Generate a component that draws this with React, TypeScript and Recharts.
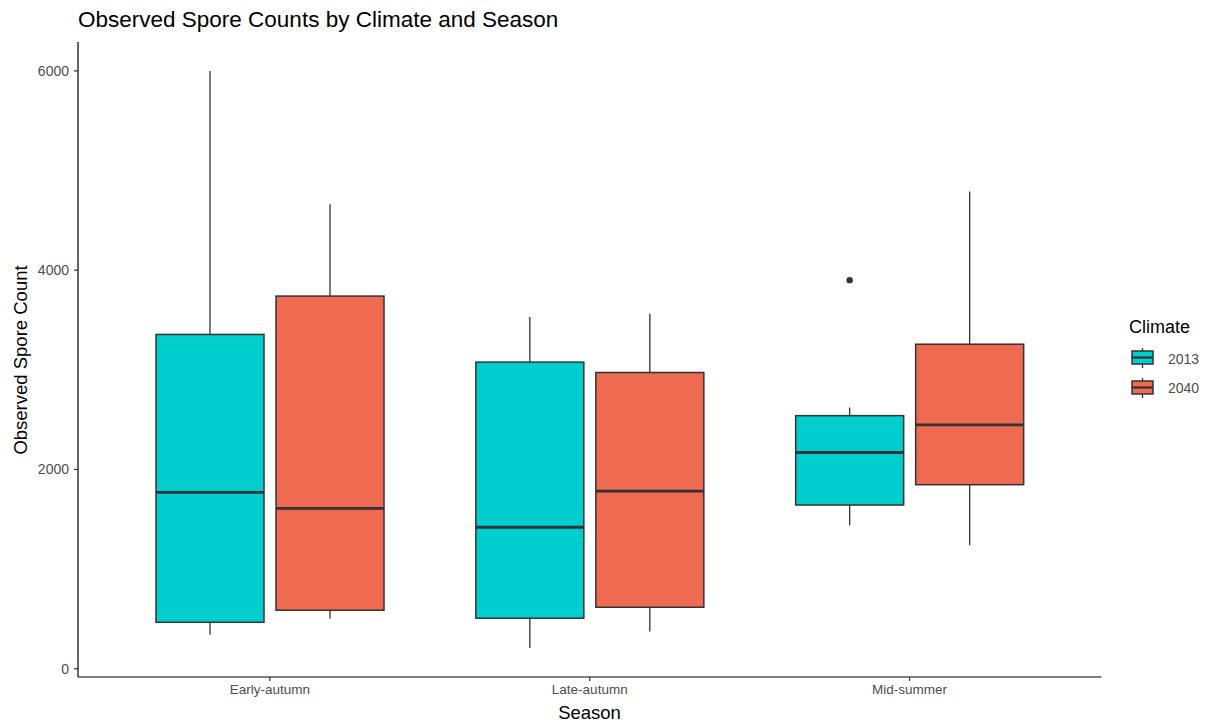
import { ComposedChart, Bar, XAxis, YAxis } from "recharts";

const seasons = ["Early-autumn", "Late-autumn", "Mid-summer"];

// 2013 climate
const min2013 = [340, 207, 1440];
const q1_2013 = [466, 507, 1643];
const med2013 = [1770, 1420, 2170];
const q3_2013 = [3355, 3077, 2540];
const max2013 = [6000, 3530, 2623];
const out2013 = [[], [], [3900]];

// 2040 climate
const min2040 = [503, 373, 1240];
const q1_2040 = [587, 617, 1847];
const med2040 = [1610, 1783, 2447];
const q3_2040 = [3740, 2973, 3257];
const max2040 = [4661, 3563, 4790];
const out2040: number[][] = [[], [], []];

const yTicks = [0, 2000, 4000, 6000];

const colors: Record<string, string> = { "2013": "#00CDCD", "2040": "#EE6A50" };

const data = seasons.map((season, i) => ({
  season,
  r2013: [min2013[i], max2013[i]],
  r2040: [min2040[i], max2040[i]],
  s2013: { min: min2013[i], q1: q1_2013[i], med: med2013[i], q3: q3_2013[i], max: max2013[i], out: out2013[i] },
  s2040: { min: min2040[i], q1: q1_2040[i], med: med2040[i], q3: q3_2040[i], max: max2040[i], out: out2040[i] },
}));

const FONT = "'Liberation Sans', Arial, sans-serif";

function BoxShape(props: any) {
  const { x, y, width, height, payload, series } = props;
  const st = payload[`s${series}`];
  const top = Math.min(y, y + height);
  const bottom = Math.max(y, y + height);
  // map a value onto the pixel range the bar got from the y scale
  const py = (v: number) => top + ((st.max - v) * (bottom - top)) / (st.max - st.min);
  const cx = x + width / 2;
  return (
    <g>
      <line x1={cx} x2={cx} y1={py(st.max)} y2={py(st.q3)} stroke="#333" strokeWidth={1.3} />
      <line x1={cx} x2={cx} y1={py(st.q1)} y2={py(st.min)} stroke="#333" strokeWidth={1.3} />
      <rect
        x={x}
        y={py(st.q3)}
        width={width}
        height={py(st.q1) - py(st.q3)}
        fill={colors[series]}
        stroke="#333"
        strokeWidth={1.5}
      />
      <line x1={x} x2={x + width} y1={py(st.med)} y2={py(st.med)} stroke="#333" strokeWidth={2.8} />
      {st.out.map((o: number, k: number) => (
        <circle key={k} cx={cx} cy={py(o)} r={3.2} fill="#333" />
      ))}
    </g>
  );
}

function LegendKey({ y, color }: { y: number; color: string }) {
  return (
    <g>
      <line x1={1142.5} x2={1142.5} y1={y - 3} y2={y + 17} stroke="#333" strokeWidth={1.3} />
      <rect x={1132} y={y} width={21} height={13} fill={color} stroke="#333" strokeWidth={1.5} />
      <line x1={1132} x2={1153} y1={y + 6.5} y2={y + 6.5} stroke="#333" strokeWidth={2.2} />
    </g>
  );
}

export default function App() {
  return (
    <div style={{ position: "relative", width: 1210, height: 722, fontFamily: FONT }}>
      <style>{"body{margin:0}"}</style>
      <ComposedChart
        width={1210}
        height={722}
        data={data}
        margin={{ top: 42, right: 108.5, left: 0, bottom: 0 }}
        barSize={108}
        barGap={12}
      >
        <XAxis
          dataKey="season"
          height={45}
          padding={{ left: 32, right: 32 }}
          axisLine={{ stroke: "#000", strokeWidth: 1.2 }}
          tickLine={{ stroke: "#333", strokeWidth: 1.2 }}
          tickSize={4}
          tickMargin={3}
          tick={{ fill: "#4d4d4d", fontSize: 13.5, fontFamily: FONT }}
        />
        <YAxis
          width={78}
          type="number"
          domain={[-83, 6290]}
          ticks={yTicks}
          allowDataOverflow
          axisLine={{ stroke: "#000", strokeWidth: 1.2 }}
          tickLine={{ stroke: "#333", strokeWidth: 1.2 }}
          tickSize={4}
          tickMargin={5}
          tick={{ fill: "#4d4d4d", fontSize: 14, fontFamily: FONT }}
        />
        <Bar
          dataKey="r2013"
          isAnimationActive={false}
          shape={(p: any) => <BoxShape {...p} series="2013" />}
        />
        <Bar
          dataKey="r2040"
          isAnimationActive={false}
          shape={(p: any) => <BoxShape {...p} series="2040" />}
        />
      </ComposedChart>
      <svg
        width={1210}
        height={722}
        style={{ position: "absolute", left: 0, top: 0, pointerEvents: "none" }}
        fontFamily={FONT}
      >
        <text x={78} y={27} fontSize={22.5} fill="#000">
          Observed Spore Counts by Climate and Season
        </text>
        <text
          x={26.5}
          y={360}
          fontSize={18.5}
          fill="#000"
          textAnchor="middle"
          transform="rotate(-90, 26.5, 360)"
        >
          Observed Spore Count
        </text>
        <text x={589.5} y={718.5} fontSize={18.5} fill="#000" textAnchor="middle">
          Season
        </text>
        <text x={1129} y={333} fontSize={18} fill="#000">
          Climate
        </text>
        <LegendKey y={351} color={colors["2013"]} />
        <LegendKey y={381} color={colors["2040"]} />
        <text x={1168} y={364} fontSize={14} fill="#4d4d4d">
          2013
        </text>
        <text x={1168} y={393} fontSize={14} fill="#4d4d4d">
          2040
        </text>
      </svg>
    </div>
  );
}
